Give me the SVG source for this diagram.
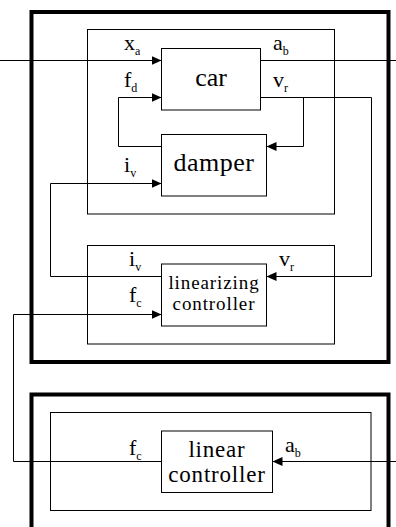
<svg xmlns="http://www.w3.org/2000/svg" width="396" height="527" viewBox="0 0 396 527">
<style>
.thick{fill:none;stroke:#000;stroke-width:4}
.box{fill:none;stroke:#000;stroke-width:1}
.blk{fill:#fff;stroke:#000;stroke-width:1}
.ln{fill:none;stroke:#000;stroke-width:1}
text{font-family:"Liberation Serif","DejaVu Serif",serif;fill:#000}
.big{font-size:26px;text-anchor:middle}
.mid{font-size:19px;text-anchor:middle;letter-spacing:0.9px}
.lin{font-size:23px;text-anchor:middle;letter-spacing:0.8px}
.lbl{font-size:22px}
.sub{font-size:12px}
</style>
<defs>
<marker id="ah" viewBox="0 0 10 10" refX="10" refY="5" markerWidth="10" markerHeight="10" markerUnits="userSpaceOnUse" orient="auto">
<path d="M0,0.5 L10,5 L0,9.5 z" fill="#000"/>
</marker>
</defs>
<rect width="396" height="527" fill="#fff"/>
<g id="frames">
<rect class="thick" x="31.5" y="12" width="357" height="350"/>
<rect class="box" x="87.5" y="29.5" width="247" height="184.5"/>
<rect class="box" x="87.5" y="245.5" width="247" height="98.5"/>
<rect class="thick" x="31.5" y="394.5" width="357" height="150"/>
<rect class="box" x="50.5" y="412.5" width="320.5" height="98"/>
</g>
<g id="connectors">
<line class="ln" x1="0" y1="60.5" x2="161.5" y2="60.5" marker-end="url(#ah)"/>
<line class="ln" x1="260.5" y1="60.5" x2="396" y2="60.5"/>
<polyline class="ln" points="161.5,146.5 118.5,146.5 118.5,97.5 161.5,97.5" marker-end="url(#ah)"/>
<polyline class="ln" points="260.5,97.5 371.5,97.5 371.5,276.5 266.5,276.5" marker-end="url(#ah)"/>
<polyline class="ln" points="303.5,97.5 303.5,146.5 266.5,146.5" marker-end="url(#ah)"/>
<polyline class="ln" points="161.5,276.5 50.5,276.5 50.5,183.5 161.5,183.5" marker-end="url(#ah)"/>
<polyline class="ln" points="161.5,461.5 13.5,461.5 13.5,314.5 161.5,314.5" marker-end="url(#ah)"/>
<line class="ln" x1="396" y1="461.5" x2="272.5" y2="461.5" marker-end="url(#ah)"/>
</g>
<g id="car">
<rect class="blk" x="161.5" y="48.5" width="99" height="61.5"/>
<text class="big" x="211" y="86">car</text>
</g>
<g id="damper">
<rect class="blk" x="161.5" y="134.5" width="105" height="61.5"/>
<text class="big" x="214" y="171" letter-spacing="0.5">damper</text>
</g>
<g id="linearizing-controller">
<rect class="blk" x="161.5" y="264" width="105" height="62"/>
<text class="mid" x="214" y="289">linearizing</text>
<text class="mid" x="214" y="310">controller</text>
</g>
<g id="linear-controller">
<rect class="blk" x="161.5" y="431" width="111" height="61.5"/>
<text class="lin" x="217" y="457">linear</text>
<text class="lin" x="217" y="482">controller</text>
</g>
<g id="labels">
<text class="lbl" x="124" y="50">x<tspan class="sub" dy="5">a</tspan></text>
<text class="lbl" x="273" y="50">a<tspan class="sub" dy="5">b</tspan></text>
<text class="lbl" x="124" y="87">f<tspan class="sub" dy="5">d</tspan></text>
<text class="lbl" x="273" y="87">v<tspan class="sub" dy="5">r</tspan></text>
<text class="lbl" x="124" y="172">i<tspan class="sub" dy="5">v</tspan></text>
<text class="lbl" x="129" y="266">i<tspan class="sub" dy="5">v</tspan></text>
<text class="lbl" x="279" y="266">v<tspan class="sub" dy="5">r</tspan></text>
<text class="lbl" x="129" y="302">f<tspan class="sub" dy="5">c</tspan></text>
<text class="lbl" x="129" y="455">f<tspan class="sub" dy="5">c</tspan></text>
<text class="lbl" x="285" y="452">a<tspan class="sub" dy="5">b</tspan></text>
</g>
</svg>
